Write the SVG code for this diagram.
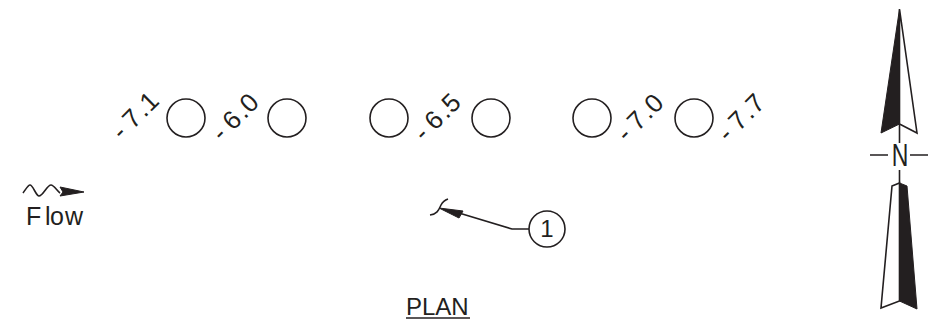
<svg xmlns="http://www.w3.org/2000/svg" width="931" height="329" viewBox="0 0 931 329">
<style>
.l{fill:none;stroke:#231f20;stroke-width:1.6;stroke-linejoin:miter}
.f{fill:#231f20;stroke:#231f20;stroke-width:1}
.w{fill:#fff;stroke:#231f20;stroke-width:1.6}
text{font-family:"Liberation Sans",Arial,sans-serif;fill:#231f20}
.e{font-size:26px}
</style>
<rect width="931" height="329" fill="#fff"/>
<g id="holes">
<circle class="l" cx="186" cy="118" r="19"/>
<circle class="l" cx="287" cy="118" r="19"/>
<circle class="l" cx="389" cy="118" r="19"/>
<circle class="l" cx="491" cy="118" r="19"/>
<circle class="l" cx="592" cy="118" r="19"/>
<circle class="l" cx="694" cy="118" r="19"/>
</g>
<g id="elevations">
<text class="e" x="0 15.500 32 40" transform="translate(122,141) rotate(-45)">-7.1</text>
<text class="e" x="0 15.500 32 40" transform="translate(222,142.500) rotate(-45)">-6.0</text>
<text class="e" x="0 15.500 32 40" transform="translate(424,142.500) rotate(-45)">-6.5</text>
<text class="e" x="0 15.500 32 40" transform="translate(626.700,143) rotate(-45)">-7.0</text>
<text class="e" x="0 15.500 32 40" transform="translate(728,143) rotate(-45)">-7.7</text>
</g>
<g id="flow">
<path class="l" d="M23,193 C26,189 28,185 30,185 C33,185 36,196 39,196 C43,196 47,185 51,185 C54,185 57,191 60,193"/>
<path class="f" d="M60,187 L84,192 L60,196 L63,192 Z"/>
<text x="26 45 50 65" y="225" font-size="25">Flow</text>
</g>
<g id="callout">
<path class="l" d="M430,215 C438,214 439,209 441,205 C443,201 445,200 448,199"/>
<path class="f" d="M439,208 L463,211 L459,218 Z"/>
<path class="l" d="M459,213 L512,229 L529,229"/>
<circle class="l" cx="547" cy="229" r="18"/>
<text x="547" y="237" font-size="24" text-anchor="middle">1</text>
</g>
<text id="plan-title" x="406" y="315" font-size="24">PLAN</text>
<path id="plan-rule" class="l" d="M406,318 L470,318"/>
<g id="north-arrow">
<path class="w" d="M899.500,9 L917,133 L899.500,124 Z"/>
<path class="f" d="M899.500,9 L881,133 L899.500,124 Z"/>
<path class="l" d="M899.500,124 L899.500,143"/>
<text transform="translate(900,166) scale(.72,1)" font-size="32" text-anchor="middle">N</text>
<path class="l" d="M870,155 L888,155 M910,155 L928,155"/>
<path class="l" d="M899.500,170 L899.500,183"/>
<path class="w" d="M892,186 L899.500,183 L899.500,301 L881,308 Z"/>
<path class="f" d="M899.500,183 L907,186 L917,309 L899.500,301 Z"/>
</g>
</svg>
